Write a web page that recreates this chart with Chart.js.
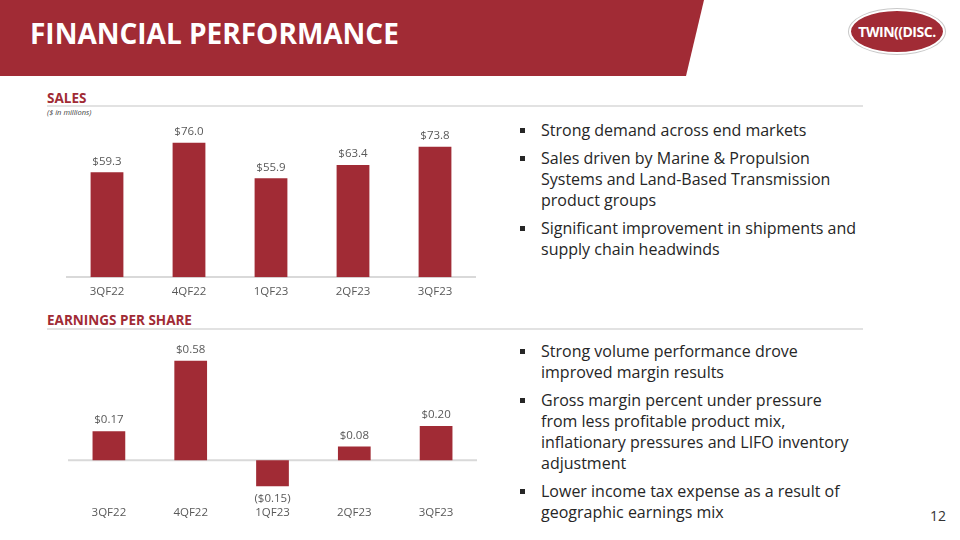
<!DOCTYPE html>
<html>
<head>
<meta charset="utf-8">
<script src="https://cdn.jsdelivr.net/npm/chart.js@4.4.0/dist/chart.umd.min.js"></script>
<style>
  body { margin: 0; width: 960px; height: 540px; position: relative; overflow: hidden; background: #fff; font-family: 'Open Sans', sans-serif; }
  .band { position: absolute; left: 0; top: 0; width: 704px; height: 76px; background: #A12B35; clip-path: polygon(0 0, 704px 0, 686px 76px, 0 76px); }
  .titel { position: absolute; left: 30px; top: 14px; color: #fff; font-weight: 700; font-size: 28px; letter-spacing: 0px; }
  .logo { position: absolute; left: 849px; top: 9px; width: 92px; height: 41px; border-radius: 50%; background: #A12B35; border: 2px solid #fff; box-shadow: 0 0 0 1px #c9c9c9; color: #fff; font-weight: 700; font-size: 14px; line-height: 41px; text-align: center; letter-spacing: -0.5px; }
  .sekcja { position: absolute; left: 47px; color: #A12B35; font-weight: 700; font-size: 13.5px; }
  .linia { position: absolute; left: 47px; width: 816px; height: 1.5px; background: #e2e2e2; }
  .jedn { position: absolute; left: 47px; top: 107px; font-size: 7.5px; font-style: italic; color: #404040; }
  canvas { position: absolute; }
  ul { position: absolute; left: 520px; margin: 0; padding: 0; list-style: none; font-size: 16px; line-height: 21px; color: #262626; }
  li { position: relative; padding-left: 21px; margin-bottom: 7px; }
  li::before { content: ''; position: absolute; left: 0; top: 8px; width: 5px; height: 5px; background: #262626; }
  .nr { position: absolute; left: 930px; top: 506px; font-size: 14px; color: #333; }
</style>
</head>
<body>
<div class="band"></div>
<div class="titel">FINANCIAL PERFORMANCE</div>
<div class="logo">TWIN((DISC.</div>

<div class="sekcja" style="top:89px">SALES</div>
<div class="linia" style="top:105px"></div>
<div class="jedn">($ in millions)</div>
<canvas id="wykresSprzedaz" width="410" height="189" style="left:66px; top:118px"></canvas>

<div class="sekcja" style="top:311px">EARNINGS PER SHARE</div>
<div class="linia" style="top:328px"></div>
<canvas id="wykresEps" width="409" height="188" style="left:68px; top:340px"></canvas>

<ul style="top:120px">
  <li>Strong demand across end markets</li>
  <li>Sales driven by Marine &amp; Propulsion<br>Systems and Land-Based Transmission<br>product groups</li>
  <li>Significant improvement in shipments and<br>supply chain headwinds</li>
</ul>
<ul style="top:341px">
  <li>Strong volume performance drove<br>improved margin results</li>
  <li>Gross margin percent under pressure<br>from less profitable product mix,<br>inflationary pressures and LIFO inventory<br>adjustment</li>
  <li>Lower income tax expense as a result of<br>geographic earnings mix</li>
</ul>
<div class="nr">12</div>

<script>
const kwartaly = ['3QF22', '4QF22', '1QF23', '2QF23', '3QF23'];
const sprzedaz = [59.3, 76.0, 55.9, 63.4, 73.8];
const eps = [0.17, 0.58, -0.15, 0.08, 0.20];

const kolorSlupka = '#A12B35';
const kolorTekstu = '#595959';
Chart.defaults.font.family = "'Open Sans', sans-serif";

function formatSprzedaz(v) { return '$' + v.toFixed(1); }
function formatEps(v) { return v < 0 ? '($' + Math.abs(v).toFixed(2) + ')' : '$' + v.toFixed(2); }

// etykiety wartosci nad/pod slupkami + linia zera
function etykietyPlugin(format, liniaZera) {
    return {
        id: 'etykiety',
        beforeDatasetsDraw(chart) {
            if (!liniaZera) return;
            const ctx = chart.ctx;
            const y = chart.scales.y.getPixelForValue(0);
            ctx.save();
            ctx.strokeStyle = '#d9d9d9';
            ctx.lineWidth = 2;
            ctx.beginPath();
            ctx.moveTo(chart.chartArea.left, y);
            ctx.lineTo(chart.chartArea.right, y);
            ctx.stroke();
            ctx.restore();
        },
        afterDatasetsDraw(chart) {
            const ctx = chart.ctx;
            const meta = chart.getDatasetMeta(0);
            const dane = chart.data.datasets[0].data;
            ctx.save();
            ctx.font = "11.5px 'Open Sans'";
            ctx.fillStyle = kolorTekstu;
            ctx.textAlign = 'center';
            ctx.textBaseline = 'middle';
            meta.data.forEach((slupek, i) => {
                const v = dane[i];
                const y = v < 0 ? slupek.y + 13 : slupek.y - 11;
                ctx.fillText(format(v), slupek.x, y);
            });
            ctx.restore();
        }
    };
}

function zrobWykres(id, dane, min, max, format, liniaZera) {
    return new Chart(document.getElementById(id).getContext('2d'), {
        type: 'bar',
        data: {
            labels: kwartaly,
            datasets: [{
                data: dane,
                backgroundColor: kolorSlupka,
                barPercentage: 0.5,
                categoryPercentage: 0.8
            }]
        },
        options: {
            responsive: false,
            animation: false,
            plugins: { legend: { display: false }, tooltip: { enabled: false } },
            layout: { padding: 0 },
            scales: {
                x: {
                    grid: { display: false, drawTicks: false },
                    border: { display: !liniaZera, color: '#d9d9d9', width: 2 },
                    ticks: { color: kolorTekstu, font: { size: 11.5 }, padding: 8 }
                },
                y: { display: false, min: min, max: max }
            }
        },
        plugins: [etykietyPlugin(format, liniaZera)]
    });
}

zrobWykres('wykresSprzedaz', sprzedaz, 0, 90, formatSprzedaz, false);
zrobWykres('wykresEps', eps, -0.22, 0.70, formatEps, true);
</script>
</body>
</html>
